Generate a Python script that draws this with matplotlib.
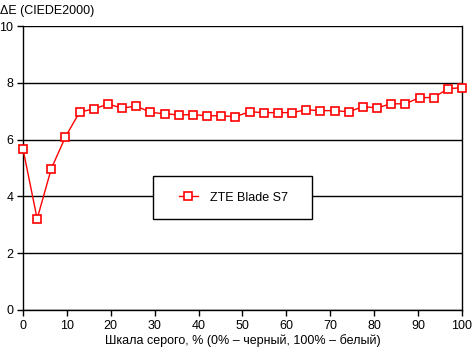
import numpy as np
import matplotlib
matplotlib.use("Agg")
import matplotlib.pyplot as plt
from matplotlib.patches import Rectangle

# shades of gray, % (32 steps from 0 to 100)
gray_pct = np.linspace(0, 100, 32)
delta_e = [5.67, 3.21, 4.98, 6.10, 6.97, 7.08, 7.25, 7.11, 7.18, 6.96,
           6.91, 6.87, 6.88, 6.84, 6.84, 6.81, 6.98, 6.95, 6.95, 6.95,
           7.05, 7.02, 7.02, 6.98, 7.16, 7.12, 7.26, 7.26, 7.48, 7.48,
           7.79, 7.83]
series_name = "ZTE Blade S7"
x_label = "Шкала серого, % (0% – черный, 100% – белый)"
y_title = "ΔE (CIEDE2000)"

plt.rcParams['font.family'] = ['Liberation Sans', 'DejaVu Sans']
fig = plt.figure(figsize=(4.72, 3.52), dpi=100)
ax = fig.add_axes([23/472, 42/352, 439/472, 284/352])

ax.plot(gray_pct, delta_e, color='red', lw=1, marker='s', markersize=5.5,
        markerfacecolor='white', markeredgecolor='red', markeredgewidth=1.2,
        label=series_name, zorder=3, clip_on=False)

ax.set_xlim(0, 100)
ax.set_ylim(0, 10)
ax.set_xticks(np.arange(0, 101, 10))
ax.set_yticks(np.arange(0, 11, 2))
ax.grid(axis='y', color='black', lw=1)
ax.set_axisbelow(True)
for s in ['left', 'right', 'bottom']:
    ax.spines[s].set_color('black')
    ax.spines[s].set_linewidth(1)
ax.spines['top'].set_visible(False)
ax.tick_params(direction='out', length=4, width=1, labelsize=9, pad=3)
ax.set_xlabel(x_label, fontsize=9, labelpad=2)
fig.text(0.0, 1 - 14/352, y_title, fontsize=9, ha='left', va='baseline')

# legend box (white, black border), drawn wider than matplotlib's default frame
ax.add_patch(Rectangle((0.297, 0.319), 0.361, 0.154, transform=ax.transAxes,
                       facecolor='white', edgecolor='black', lw=1, zorder=4))
leg = ax.legend(loc='center', bbox_to_anchor=(0.480, 0.396), fontsize=9,
                frameon=False, handlelength=1.5, handletextpad=1.0,
                borderaxespad=0)
leg.set_zorder(5)

fig.savefig("out.png", dpi=100)
